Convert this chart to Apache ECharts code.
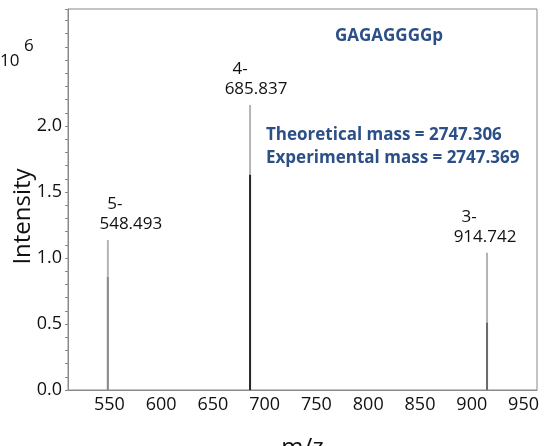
<!DOCTYPE html>
<html>
<head>
<meta charset="utf-8">
<script src="https://cdn.jsdelivr.net/npm/echarts@6/dist/echarts.min.js"></script>
<style>
  html, body { margin: 0; padding: 0; background: #ffffff; }
  #chart { width: 558px; height: 446px; }
</style>
</head>
<body>
<div id="chart"></div>
<script>
// Deconvoluted peaks of GAGAGGGGp (negative charge states)
const peakMz = [548.493, 685.837, 914.742];
const peakCharge = ['5-', '4-', '3-'];
// Intensities in units of 10^6
const profileIntensity = [1.136, 2.159, 1.04];
const centroidIntensity = [0.856, 1.63, 0.51];

const peptideName = 'GAGAGGGGp';
const theoreticalMass = '2747.306';
const experimentalMass = '2747.369';

const xRange = [510, 963];
const yRange = [0, 2.886];

const FONT = '"Open Sans", "Noto Sans", sans-serif';
const BLUE = '#2b4f86';

// per-peak nudge of the annotation block, and shade of the inner stick
const labelNudge = [[23, 0], [6, 0], [-2, 0]];
const innerShade = ['#8c8c8c', '#262626', '#6a6a6a'];

const chart = echarts.init(document.getElementById('chart'), null, { renderer: 'canvas' });

const profileData = peakMz.map((mz, i) => ({
  value: [mz, profileIntensity[i]],
  label: {
    offset: labelNudge[i],
    formatter: '{c|' + peakCharge[i] + '}\n{m|' + mz.toFixed(3) + '}'
  }
}));
const centroidData = peakMz.map((mz, i) => [mz, centroidIntensity[i]]);

chart.setOption({
  animation: false,
  backgroundColor: '#ffffff',
  grid: {
    left: 68, top: 9, right: 21, bottom: 56,
    containLabel: false,
    outerBoundsMode: 'none',
    show: true, borderColor: '#8a8a8a', borderWidth: 1
  },
  xAxis: {
    type: 'value',
    min: xRange[0], max: xRange[1],
    splitNumber: 9,
    name: 'm/z',
    nameLocation: 'middle',
    nameMoveOverlap: false,
    nameGap: 46,
    nameTextStyle: { fontFamily: FONT, fontSize: 24, color: '#111' },
    axisLine: { show: true, lineStyle: { color: '#8a8a8a', width: 1 } },
    axisTick: { show: false },
    splitLine: { show: false },
    axisLabel: {
      showMinLabel: false, showMaxLabel: false,
      fontFamily: FONT, fontSize: 18, color: '#111', margin: 6
    }
  },
  yAxis: {
    type: 'value',
    min: yRange[0], max: yRange[1],
    interval: 0.5,
    name: 'Intensity',
    nameLocation: 'middle',
    nameMoveOverlap: false,
    nameGap: 33,
    nameRotate: 90,
    nameTextStyle: { fontFamily: FONT, fontSize: 24, color: '#111', padding: [0, 34, 0, 0] },
    axisLine: { show: true, lineStyle: { color: '#8a8a8a', width: 1 } },
    axisTick: { show: true, inside: false, length: 3, lineStyle: { color: '#8a8a8a' } },
    minorTick: { show: true, splitNumber: 5, length: 3, lineStyle: { color: '#8a8a8a' } },
    splitLine: { show: false },
    axisLabel: {
      fontFamily: FONT, fontSize: 18, color: '#111', margin: 6,
      formatter: v => (v > 2.2 ? '' : v.toFixed(1))
    }
  },
  series: [
    {
      name: 'profile',
      type: 'bar',
      barWidth: 2,
      barGap: '-100%',
      itemStyle: { color: '#b4b4b4' },
      label: {
        show: true,
        position: 'top',
        distance: 6,
        color: '#111',
        fontFamily: FONT,
        rich: {
          c: { fontFamily: FONT, fontSize: 17, color: '#111', lineHeight: 20, padding: [0, 32, 0, 0] },
          m: { fontFamily: FONT, fontSize: 17, color: '#111', lineHeight: 20 }
        }
      },
      data: profileData,
      z: 2
    },
    {
      name: 'centroid',
      type: 'bar',
      barWidth: 2,
      barGap: '-100%',
      itemStyle: { color: p => innerShade[p.dataIndex] },
      data: centroidData,
      z: 3
    }
  ],
  graphic: [
    { type: 'text', left: 0, top: 53, style: { text: '10', font: '17px ' + FONT, fill: '#111' } },
    { type: 'text', left: 24, top: 38, style: { text: '6', font: '17px ' + FONT, fill: '#111' } },
    { type: 'text', x: 389, y: 28, style: { text: peptideName, font: 'bold 17px ' + FONT, fill: BLUE, align: 'center' } },
    { type: 'text', x: 266, y: 127, style: { text: 'Theoretical mass = ' + theoreticalMass, font: 'bold 17px ' + FONT, fill: BLUE } },
    { type: 'text', x: 266, y: 150, style: { text: 'Experimental mass = ' + experimentalMass, font: 'bold 17px ' + FONT, fill: BLUE } }
  ]
});
</script>
</body>
</html>
